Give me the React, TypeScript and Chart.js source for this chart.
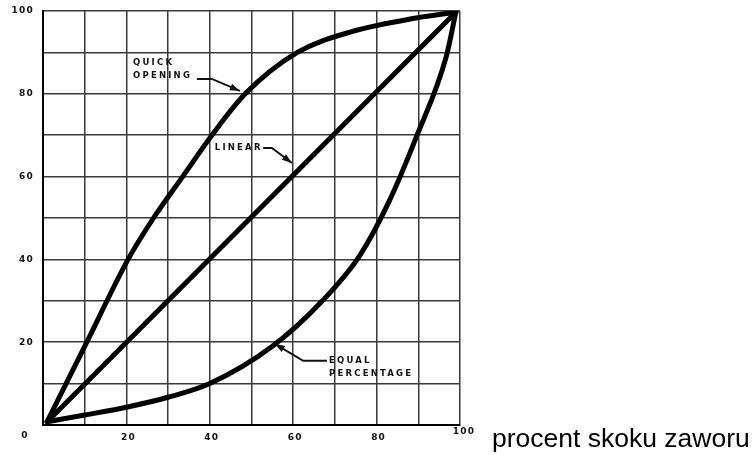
import React, { useEffect, useRef } from "react";
import { Chart, registerables } from "chart.js";

Chart.register(...registerables);

// ---- data (percent of flow vs percent of valve travel) ----
const quickX = [1, 10.5, 20.4, 26.5, 33.5, 40.5, 48.5, 61, 74, 89.5, 99];
const quickY = [0.8, 20, 40, 50, 60, 70, 80, 90, 95, 98.3, 99.7];

const linearX = [1, 99];
const linearY = [0.8, 99.7];

const equalX = [1, 10, 20, 30, 40, 55, 67, 76, 83, 89.7, 96.7, 99];
const equalY = [0.8, 2.4, 4.3, 6.7, 10, 19, 30, 41, 54, 70, 89, 99.7];

const xTickValues = [20, 40, 60, 80, 100];
const yTickValues = [0, 20, 40, 60, 80, 100];
const axisTitle = "procent skoku zaworu";

const seriesLabels = ["QUICK OPENING", "LINEAR", "EQUAL PERCENTAGE"];

// annotation callouts, in data units
const callouts = [
  { lines: ["QUICK", "OPENING"], at: [21.6, 87.4], path: [[36.9, 83.6], [40.5, 83.6], [47.2, 80.7]] },
  { lines: ["LINEAR"], at: [41.2, 66.9], path: [[52.8, 66.9], [54.9, 66.9], [59.7, 63.3]] },
  { lines: ["EQUAL", "PERCENTAGE"], at: [68.6, 15.5], path: [[68.1, 15.5], [62.4, 15.5], [55.6, 19.6]] },
];

const toPts = (xs: number[], ys: number[]) => xs.map((x, i) => ({ x, y: ys[i] }));

const FONT = '"Liberation Sans", Arial, sans-serif';
const BOLD = '"DejaVu Sans", sans-serif';

const overlayPlugin = {
  id: "overlay",
  afterDraw(chart: any) {
    const { ctx, chartArea } = chart;
    const xs = chart.scales.x;
    const ys = chart.scales.y;
    ctx.save();
    ctx.fillStyle = "#111";
    ctx.font = `bold 9px ${BOLD}`;
    (ctx as any).letterSpacing = "1.2px";
    // y tick labels
    yTickValues.forEach((v) => {
      const py = ys.getPixelForValue(v);
      ctx.textBaseline = "middle";
      if (v === 0) {
        ctx.textAlign = "center";
        ctx.fillText(String(v), chartArea.left - 18, py + 11);
      } else {
        ctx.textAlign = "right";
        ctx.fillText(String(v), chartArea.left - 9, py);
      }
    });
    // x tick labels
    xTickValues.forEach((v) => {
      const px = xs.getPixelForValue(v);
      ctx.textAlign = "center";
      ctx.textBaseline = "middle";
      if (v === 100) ctx.fillText(String(v), px + 4, chartArea.bottom + 7);
      else ctx.fillText(String(v), px + 2, chartArea.bottom + 13);
    });

    // callouts
    ctx.textAlign = "left";
    ctx.textBaseline = "middle";
    ctx.font = `bold 8.5px ${BOLD}`;
    (ctx as any).letterSpacing = "2.2px";
    callouts.forEach((c) => {
      const tx = xs.getPixelForValue(c.at[0]);
      const ty = ys.getPixelForValue(c.at[1]);
      c.lines.forEach((ln, i) => ctx.fillText(ln, tx, ty + i * 13));
      const pts = c.path.map((p) => [xs.getPixelForValue(p[0]), ys.getPixelForValue(p[1])]);
      ctx.strokeStyle = "#111";
      ctx.lineWidth = 2;
      ctx.beginPath();
      pts.forEach((p, i) => (i === 0 ? ctx.moveTo(p[0], p[1]) : ctx.lineTo(p[0], p[1])));
      ctx.stroke();
      const a = pts[pts.length - 2];
      const b = pts[pts.length - 1];
      const ang = Math.atan2(b[1] - a[1], b[0] - a[0]);
      const L = 10, W = 3.5;
      ctx.beginPath();
      ctx.moveTo(b[0], b[1]);
      ctx.lineTo(b[0] - L * Math.cos(ang) + W * Math.sin(ang), b[1] - L * Math.sin(ang) - W * Math.cos(ang));
      ctx.lineTo(b[0] - L * Math.cos(ang) - W * Math.sin(ang), b[1] - L * Math.sin(ang) + W * Math.cos(ang));
      ctx.closePath();
      ctx.fill();
    });

    // axis title
    (ctx as any).letterSpacing = "0px";
    ctx.font = `26.5px ${FONT}`;
    ctx.textAlign = "left";
    ctx.textBaseline = "alphabetic";
    ctx.fillStyle = "#000";
    ctx.fillText(axisTitle, chartArea.right + 32, chartArea.bottom + 22);
    ctx.restore();
  },
};

export default function App() {
  const ref = useRef<HTMLCanvasElement>(null);
  useEffect(() => {
    if (!ref.current) return;
    const lineStyle = {
      showLine: true,
      borderColor: "#000",
      borderWidth: 5,
      pointRadius: 0,
      fill: false,
      cubicInterpolationMode: "monotone" as const,
      borderCapStyle: "round" as const,
      borderJoinStyle: "round" as const,
    };
    const chart = new Chart(ref.current, {
      type: "scatter",
      data: {
        datasets: [
          { label: seriesLabels[0], data: toPts(quickX, quickY), ...lineStyle },
          { label: seriesLabels[1], data: toPts(linearX, linearY), ...lineStyle },
          { label: seriesLabels[2], data: toPts(equalX, equalY), ...lineStyle },
        ],
      },
      options: {
        responsive: false,
        animation: false,
        layout: { padding: { left: 43, top: 11, right: 292, bottom: 30 } },
        plugins: { legend: { display: false }, tooltip: { enabled: false } },
        scales: {
          x: {
            type: "linear",
            min: 0,
            max: 100,
            ticks: { display: false, stepSize: 10 },
            grid: { color: "#3a3a3a", lineWidth: 1.5, drawTicks: false },
            border: { display: true, color: "#000", width: 2 },
          },
          y: {
            type: "linear",
            min: 0,
            max: 100,
            ticks: { display: false, stepSize: 10 },
            grid: { color: "#3a3a3a", lineWidth: 1.5, drawTicks: false },
            border: { display: true, color: "#000", width: 2 },
          },
        },
      },
      plugins: [overlayPlugin],
    });
    return () => chart.destroy();
  }, []);
  return (
    <div style={{ position: "fixed", left: 0, top: 0, width: 752, height: 455, background: "#fff" }}>
      <canvas ref={ref} width={752} height={455} style={{ display: "block" }} />
    </div>
  );
}
